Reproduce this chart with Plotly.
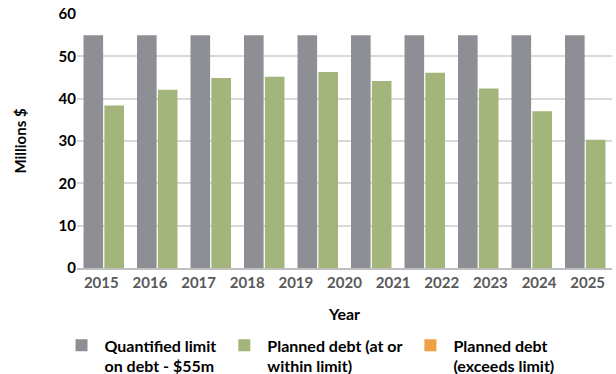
import plotly.graph_objects as go

# Debt series by year
bar_years = ["2015", "2016", "2017", "2018", "2019", "2020", "2021", "2022", "2023", "2024"]
limit_values = [55, 55, 55, 55, 55, 55, 55, 55, 55, 55]
planned_within = [38.4, 42.1, 44.9, 45.2, 46.3, 44.2, 46.1, 42.4, 37.0, 30.3]
planned_exceeds = [None] * 10
axis_years = ["2015", "2016", "2017", "2018", "2019", "2020", "2021", "2022", "2023", "2024", "2025"]

FONT = "Lato"
GREY = "#8e8f94"
GREEN = "#a3b57a"
ORANGE = "#eea042"

fig = go.Figure()
fig.add_trace(go.Bar(x=bar_years, y=limit_values, name="Quantified limit<br>on debt - $55m",
                     marker=dict(color=GREY, line=dict(width=0)), offsetgroup="limit"))
fig.add_trace(go.Bar(x=bar_years, y=planned_within, name="Planned debt (at or<br>within limit)",
                     marker=dict(color=GREEN, line=dict(width=0)), offsetgroup="plan"))
fig.add_trace(go.Bar(x=bar_years, y=planned_exceeds, name="Planned debt<br>(exceeds limit)",
                     marker=dict(color=ORANGE, line=dict(width=0)), offsetgroup="plan"))
# year labels along the bottom axis
fig.add_trace(go.Scatter(x=axis_years, y=[None] * len(axis_years), xaxis="x2",
                         mode="markers", showlegend=False, hoverinfo="skip"))

fig.update_layout(
    width=616, height=374,
    margin=dict(l=77, r=4, t=12, b=106),
    paper_bgcolor="white", plot_bgcolor="white",
    barmode="group", bargap=0.22, bargroupgap=0.06,
    font=dict(family=FONT, color="black"),
    showlegend=True,
    legend=dict(orientation="h", xref="container", yref="container",
                x=0.095, y=0.122, xanchor="left", yanchor="top",
                valign="top", traceorder="normal", borderwidth=0,
                font=dict(family=FONT, size=16, color="black", weight="bold"),
                itemwidth=36, tracegroupgap=0),
    xaxis=dict(type="category", showticklabels=False, ticks="",
               showgrid=False, showline=True, linecolor="#bfbfbf", linewidth=1.5,
               zeroline=False),
    xaxis2=dict(type="category", overlaying="x", side="bottom", range=[-0.5, 10.5],
                showgrid=False, showline=False, zeroline=False, ticks="",
                ticklabelstandoff=4,
                tickfont=dict(family=FONT, size=15, color="#595959", weight="bold"),
                title=dict(text="Year", font=dict(family=FONT, size=16, color="black", weight="bold"),
                           standoff=18)),
    yaxis=dict(range=[0, 60], dtick=10, showgrid=True, gridcolor="#d9d9d9", gridwidth=1.5,
               zeroline=False, showline=False, ticks="",
               tickfont=dict(family=FONT, size=15, color="black", weight="bold"),
               title=dict(text="Millions $", font=dict(family=FONT, size=15, color="black", weight="bold"),
                          standoff=28)),
)

fig.write_html("out.html")
